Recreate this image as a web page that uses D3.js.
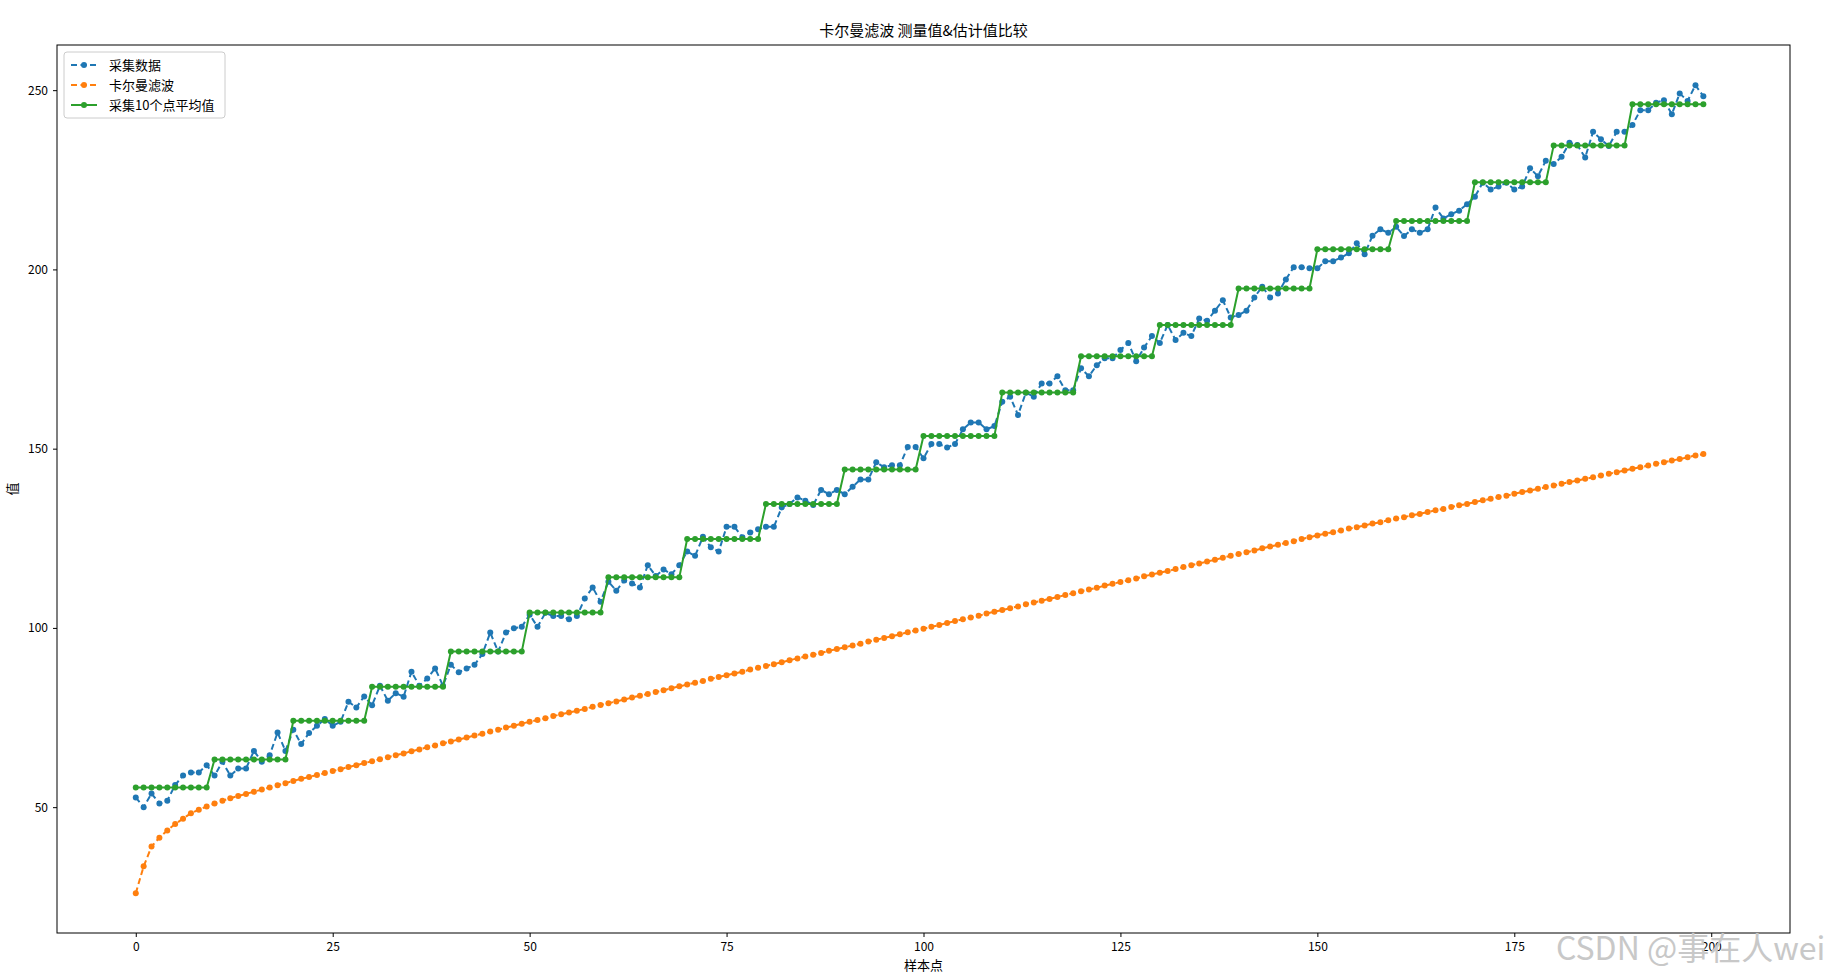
<!DOCTYPE html>
<html>
<head>
<meta charset="utf-8">
<script src="https://cdn.jsdelivr.net/npm/d3@7"></script>
<style>
  body { margin: 0; background: #fff; }
  text { font-family: "Noto Sans CJK SC", "DejaVu Sans", sans-serif; }
</style>
</head>
<body>
<div id="chart"></div>
<script>
const measured = [
  52.7, 50, 53.8, 51, 51.8, 56.2, 58.8, 59.7, 59.7, 61.7,
  58.8, 62.7, 58.8, 60.8, 60.8, 65.7, 62.7, 64.5, 70.8, 65.7,
  71.6, 67.6, 70.7, 72.7, 74.6, 72.7, 73.8, 79.4, 77.8, 80.9,
  78.4, 83.9, 79.7, 81.8, 80.8, 87.8, 83.9, 85.9, 88.7, 83.9,
  89.7, 87.6, 88.7, 89.7, 92.7, 98.7, 93.4, 98.7, 99.9, 100.3,
  103.7, 100.3, 104.2, 103.3, 103.3, 102.4, 103.3, 108.2, 111.3, 107.3,
  112.9, 110.4, 113.2, 112.4, 111.3, 117.5, 114.5, 116.3, 115.0, 117.5,
  121.3, 120.1, 125.4, 122.5, 121.3, 128.2, 128.2, 125.3, 126.6, 127.5,
  128.2, 128.2, 133.6, 134.6, 136.4, 135.5, 134.3, 138.5, 137.3, 138.5,
  137.3, 139.4, 141.4, 141.4, 146.2, 144.8, 145.4, 145.4, 150.5, 150.5,
  147.3, 151.3, 151.3, 150.3, 151.3, 155.4, 157.3, 157.3, 155.4, 156.3,
  163.1, 164.5, 159.4, 165.6, 164.5, 168.2, 168.2, 170.2, 166.3, 166.3,
  172.4, 170.2, 173.3, 175.2, 175.2, 177.5, 179.5, 174.4, 178.2, 181.4,
  179.5, 184.5, 180.3, 182.3, 181.4, 186.3, 185.7, 188.5, 191.4, 186.6,
  187.3, 188.5, 192.2, 195.2, 192.2, 193.3, 197.2, 200.6, 200.6, 200.3,
  200.3, 202.3, 202.3, 203.3, 204.5, 207.3, 204.2, 209.4, 211.2, 210.2,
  211.9, 209.3, 211.2, 210.2, 211.2, 217.3, 214.2, 215.4, 216.4, 218.2,
  220.3, 224.2, 222.3, 223.1, 224.2, 222.3, 223.1, 228.2, 226.0, 230.3,
  229.4, 231.4, 235.3, 234.7, 231.2, 238.4, 236.3, 234.4, 238.4, 238.4,
  240.3, 244.4, 244.4, 246.5, 247.2, 243.3, 249.1, 247.0, 251.4, 248.3
];

// 卡尔曼滤波 (filter estimate)
const kalman = [
  26, 33.5, 39, 41.5, 43.5, 45.3, 46.8, 48.3, 49.3, 50.2,
  51.0, 51.8, 52.5, 53.1, 53.7, 54.3, 54.9, 55.5, 56.1, 56.7,
  57.3, 57.9, 58.4, 59.0, 59.5, 60.1, 60.6, 61.2, 61.7, 62.3,
  62.8, 63.4, 63.9, 64.5, 65.0, 65.6, 66.1, 66.7, 67.2, 67.8,
  68.3, 68.9, 69.4, 70.0, 70.5, 71.1, 71.6, 72.2, 72.7, 73.3,
  73.8, 74.3, 74.8, 75.4, 75.9, 76.4, 76.9, 77.4, 78.0, 78.5,
  79.0, 79.5, 80.0, 80.6, 81.1, 81.6, 82.1, 82.6, 83.2, 83.7,
  84.2, 84.7, 85.2, 85.8, 86.3, 86.8, 87.3, 87.8, 88.4, 88.9,
  89.4, 89.9, 90.4, 91.0, 91.5, 92.0, 92.5, 93.0, 93.6, 94.1,
  94.6, 95.1, 95.6, 96.2, 96.7, 97.2, 97.7, 98.2, 98.8, 99.3,
  99.8, 100.3, 100.8, 101.4, 101.9, 102.4, 102.9, 103.4, 104.0, 104.5,
  105.0, 105.5, 106.0, 106.6, 107.1, 107.6, 108.1, 108.6, 109.2, 109.7,
  110.2, 110.7, 111.2, 111.8, 112.3, 112.8, 113.3, 113.8, 114.4, 114.9,
  115.4, 115.9, 116.4, 117.0, 117.5, 118.0, 118.5, 119.0, 119.6, 120.1,
  120.6, 121.1, 121.6, 122.2, 122.7, 123.2, 123.7, 124.2, 124.8, 125.3,
  125.8, 126.3, 126.7, 127.2, 127.7, 128.1, 128.6, 129.1, 129.5, 130.0,
  130.5, 130.9, 131.4, 131.8, 132.3, 132.8, 133.2, 133.7, 134.2, 134.6,
  135.1, 135.6, 136.0, 136.5, 136.9, 137.4, 137.9, 138.3, 138.8, 139.3,
  139.7, 140.2, 140.7, 141.1, 141.6, 142.0, 142.5, 143.0, 143.4, 143.9,
  144.4, 144.8, 145.3, 145.8, 146.2, 146.7, 147.1, 147.6, 148.1, 148.5
];

// 采集10个点平均值 (one mean per block of 10 samples)
const blockMeans = [
  55.5, 63.3, 74.1, 83.6, 93.4, 104.3, 114.1, 124.8, 134.6, 144.2,
  153.5, 165.7, 175.8, 184.5, 194.7, 205.6, 213.5, 224.3, 234.6, 246.1
];
const blockSize = 10;

const xTicks = [0, 25, 50, 75, 100, 125, 150, 175, 200];
const yTicks = [50, 100, 150, 200, 250];
const seriesNames = ["采集数据", "卡尔曼滤波", "采集10个点平均值"];
const colors = ["#1f77b4", "#ff7f0e", "#2ca02c"];

const width = 1847, height = 978;
const margin = { top: 45, right: 57, bottom: 45, left: 57 };

const svg = d3.select("#chart")
    .append("svg")
    .attr("width", width)
    .attr("height", height);

const x = d3.scaleLinear()
    .domain([-10, 210])
    .range([margin.left, width - margin.right]);

const y = d3.scaleLinear()
    .domain([14.9, 262.6])
    .range([height - margin.bottom, margin.top]);

// axes
svg.append("g")
    .attr("transform", "translate(0," + (height - margin.bottom) + ")")
    .call(d3.axisBottom(x).tickValues(xTicks).tickSize(4).tickPadding(5).tickFormat(d3.format("d")))
    .call(g => g.select(".domain").remove())
    .selectAll("text").attr("font-size", 12).attr("fill", "#000");

svg.append("g")
    .attr("transform", "translate(" + margin.left + ",0)")
    .call(d3.axisLeft(y).tickValues(yTicks).tickSize(4).tickPadding(5).tickFormat(d3.format("d")))
    .call(g => g.select(".domain").remove())
    .selectAll("text").attr("font-size", 12).attr("fill", "#000");

svg.append("rect")
    .attr("x", margin.left)
    .attr("y", margin.top)
    .attr("width", width - margin.left - margin.right)
    .attr("height", height - margin.top - margin.bottom)
    .attr("fill", "none")
    .attr("stroke", "#000")
    .attr("stroke-width", 1);

// series
const series = [
    { values: measured, dash: "6,3.5" },
    { values: kalman, dash: "6,3.5" },
    { values: measured.map((d, i) => blockMeans[Math.floor(i / blockSize)]), dash: null }
];

const line = d3.line()
    .x((d, i) => x(i))
    .y(d => y(d));

series.forEach(function(s, k) {
    svg.append("path")
        .datum(s.values)
        .attr("d", line)
        .attr("fill", "none")
        .attr("stroke", colors[k])
        .attr("stroke-width", 2)
        .attr("stroke-dasharray", s.dash);

    svg.append("g")
        .selectAll("circle")
        .data(s.values)
        .enter()
        .append("circle")
        .attr("cx", function(d, i) {
            return x(i);
        })
        .attr("cy", function(d) {
            return y(d);
        })
        .attr("r", 3)
        .attr("fill", colors[k]);
});

// title & labels
svg.append("text")
    .attr("x", (margin.left + width - margin.right) / 2)
    .attr("y", 36)
    .attr("text-anchor", "middle")
    .attr("font-size", 15)
    .text("卡尔曼滤波 测量值&估计值比较");

svg.append("text")
    .attr("x", (margin.left + width - margin.right) / 2)
    .attr("y", 970)
    .attr("text-anchor", "middle")
    .attr("font-size", 13)
    .text("样本点");

svg.append("text")
    .attr("transform", "translate(17," + ((margin.top + height - margin.bottom) / 2) + ") rotate(-90)")
    .attr("text-anchor", "middle")
    .attr("font-size", 13)
    .text("值");

// legend
const legend = svg.append("g").attr("transform", "translate(64,52)");
legend.append("rect")
    .attr("width", 161)
    .attr("height", 66)
    .attr("rx", 3)
    .attr("fill", "#fff")
    .attr("stroke", "#ccc");

seriesNames.forEach(function(name, k) {
    const ly = 13 + k * 20;
    legend.append("line")
        .attr("x1", 7).attr("x2", 33)
        .attr("y1", ly).attr("y2", ly)
        .attr("stroke", colors[k])
        .attr("stroke-width", 2)
        .attr("stroke-dasharray", series[k].dash);
    legend.append("circle")
        .attr("cx", 20).attr("cy", ly).attr("r", 3)
        .attr("fill", colors[k]);
    legend.append("text")
        .attr("x", 45).attr("y", ly + 5)
        .attr("font-size", 13)
        .text(name);
});

// watermark
svg.append("text")
    .attr("x", 1556)
    .attr("y", 960)
    .attr("font-size", 32)
    .attr("fill", "#c8c8c8")
    .attr("font-family", "Noto Sans CJK SC, sans-serif")
    .text("CSDN @事在人wei");
</script>
</body>
</html>
